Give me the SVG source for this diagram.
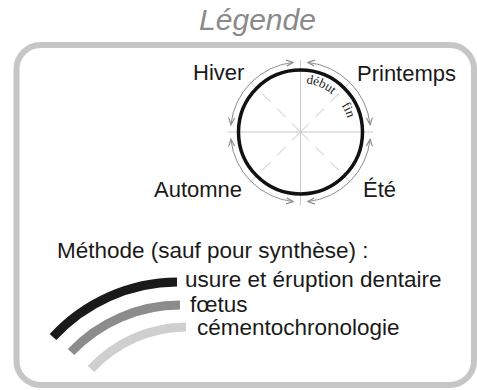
<svg xmlns="http://www.w3.org/2000/svg" width="477" height="390" viewBox="0 0 477 390">
<defs>
<style>
.lbl{font-family:"Liberation Sans",Arial,sans-serif;font-size:22px;fill:#1a1a1a}
.big{font-size:22.5px}
.ser{font-family:"Liberation Serif","Times New Roman",serif;font-size:13px;fill:#1a1a1a}
.arc{fill:none;stroke:#8e8e8e;stroke-width:1;marker-start:url(#ah);marker-end:url(#ah)}
.cross{stroke:#c8c8c8;stroke-width:1;fill:none}
.bar{fill:none;stroke-width:9;stroke-linecap:butt}
</style>
<marker id="ah" viewBox="0 0 8 8" refX="7" refY="4" markerWidth="8" markerHeight="8" markerUnits="userSpaceOnUse" orient="auto-start-reverse">
<path d="M0,1 L7,4 L0,7" fill="none" stroke="#8e8e8e" stroke-width="1.2"/>
</marker>
<path id="tp" d="M300.5,83 A49,49 0 0 1 300.5,181 A49,49 0 0 1 300.5,83"/>
</defs>
<rect width="477" height="390" fill="#ffffff"/>
<g id="title">
<text x="257.5" y="30" text-anchor="middle" font-family="Liberation Sans,Arial,sans-serif" font-style="italic" font-size="30" fill="#8a8a8a">Légende</text>
</g>
<g id="frame">
<rect x="16.5" y="45" width="457.5" height="340" rx="24" fill="none" stroke="#c6c6c6" stroke-width="6"/>
</g>
<g id="cycle">
<line class="cross" x1="228" y1="132" x2="373" y2="132"/>
<line class="cross" x1="300.5" y1="60" x2="300.5" y2="205"/>
<g stroke="#c8c8c8" stroke-width="1" stroke-dasharray="12 9">
<line x1="300.5" y1="132" x2="351" y2="81.5"/>
<line x1="300.5" y1="132" x2="250" y2="81.5"/>
<line x1="300.5" y1="132" x2="351" y2="182.5"/>
<line x1="300.5" y1="132" x2="250" y2="182.5"/>
</g>
<circle cx="300.5" cy="132" r="62" fill="none" stroke="#111111" stroke-width="3.5"/>
<text class="ser"><textPath href="#tp" startOffset="5.5">début</textPath></text>
<text class="ser"><textPath href="#tp" startOffset="48.5">fin</textPath></text>
</g>
<g id="connectors">
<path class="arc" d="M307.8,62.4 A70,70 0 0 1 370.1,124.7"/>
<path class="arc" d="M370.1,139.3 A70,70 0 0 1 307.8,201.6"/>
<path class="arc" d="M293.2,201.6 A70,70 0 0 1 230.9,139.3"/>
<path class="arc" d="M230.9,124.7 A70,70 0 0 1 293.2,62.4"/>
</g>
<g id="seasons">
<text class="lbl" x="193" y="80">Hiver</text>
<text class="lbl" x="357" y="81">Printemps</text>
<text class="lbl" x="154" y="197">Automne</text>
<text class="lbl" x="363" y="197">Été</text>
</g>
<g id="methods">
<text class="lbl big" x="57" y="258">Méthode (sauf pour synthèse) :</text>
<path class="bar" stroke="#1a1a1a" d="M53,337 A170,170 0 0 1 177,282"/>
<path class="bar" stroke="#8c8c8c" d="M71,352 A150,150 0 0 1 180,305"/>
<path class="bar" stroke="#cfcfcf" d="M91,369 A130,130 0 0 1 186,327"/>
<text class="lbl big" x="185" y="287">usure et éruption dentaire</text>
<text class="lbl big" x="190" y="312">fœtus</text>
<text class="lbl big" x="197" y="335">cémentochronologie</text>
</g>
</svg>
